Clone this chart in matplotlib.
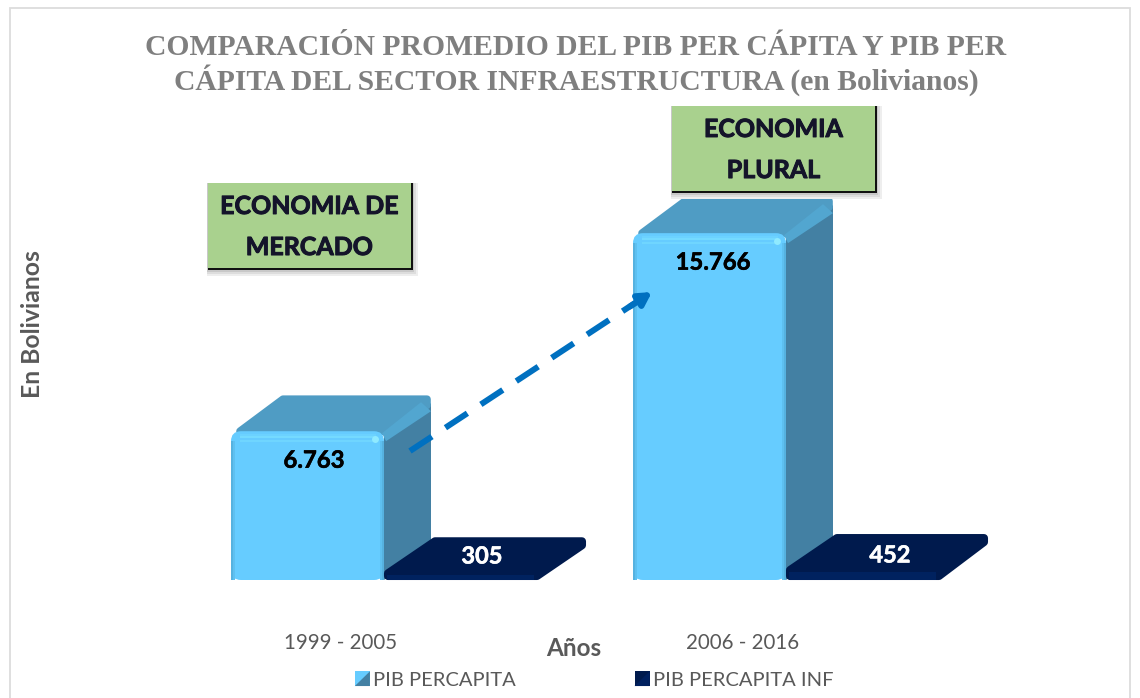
import matplotlib
matplotlib.use('Agg')
import matplotlib.pyplot as plt
import matplotlib.patheffects as pe
from matplotlib.patches import FancyBboxPatch, Polygon, Rectangle, Patch
from matplotlib.legend_handler import HandlerPatch

# --- Data ---
periodos = ['1999 - 2005', '2006 - 2016']
pib_percapita = [6763, 15766]
pib_percapita_inf = [305, 452]
etiquetas_pib = ['6.763', '15.766']
etiquetas_inf = ['305', '452']
titulo = 'COMPARACIÓN PROMEDIO DEL PIB PER CÁPITA Y PIB PER\nCÁPITA DEL SECTOR INFRAESTRUCTURA (en Bolivianos)'
cajas = ['ECONOMIA DE\nMERCADO', 'ECONOMIA\nPLURAL']

W, H = 1140, 698
PX_X = 1 / 402      # one pixel in category units
PX_Y = 1 / 0.022    # one pixel in Bolivianos
BASE_Y = 580        # pixel row of the zero line
X0 = 341            # pixel column of the first category

plt.rcParams['font.family'] = ['Lato', 'DejaVu Sans']
fig = plt.figure(figsize=(W / 100, H / 100), dpi=100, facecolor='white')

# frame of the chart area
fig.add_artist(Rectangle((10 / W, -0.02), 1120 / W, 1.02 - 8 / H, transform=fig.transFigure,
                         fc='white', ec='#dcdcdc', lw=1.3, zorder=-1))

# axes from the zero line upwards
ax = fig.add_axes([130 / W, (H - BASE_Y) / H, 900 / W, 480 / H])
ax.set_xlim((130 - X0) * PX_X, (1030 - X0) * PX_X)
ax.set_ylim(0, 480 * PX_Y)
ax.patch.set_alpha(0)
for s in ax.spines.values():
    s.set_visible(False)
ax.set_yticks([])
ax.set_xticks(range(len(periodos)))
ax.set_xticklabels(periodos, fontsize=14.8, color='#595959')
ax.tick_params(axis='x', length=0, pad=38.5)

ANCHO = 152 * PX_X
DX = 47 * PX_X
DY = 36 * PX_Y
OFF_A = -109 * PX_X
OFF_B = 43 * PX_X
ASPECT = PX_Y / PX_X


def caja_redonda(x, y, w, h, color, r=8, z=3):
    p = FancyBboxPatch((x, y), w, h, boxstyle=f'round,pad=0,rounding_size={r * PX_X}',
                       mutation_aspect=ASPECT, fc=color, ec='none', zorder=z, clip_on=False)
    ax.add_patch(p)
    return p


def barra_3d(x, v):
    # side face
    lado = [(x + ANCHO, 0), (x + ANCHO + DX, DY), (x + ANCHO + DX, v + DY - 8 * PX_Y), (x + ANCHO, v)]
    ax.add_patch(Polygon(lado, fc='#4380A3', ec='none', zorder=2))
    # top face, inset and stroked so that the corners come out round
    i = 4
    arriba = [(x + i * 2 * PX_X, v), (x + DX + i * PX_X, v + DY - i * PX_Y),
              (x + ANCHO + DX - i * PX_X, v + DY - i * PX_Y), (x + ANCHO + DX - i * PX_X, v + DY - 10 * PX_Y),
              (x + ANCHO, v)]
    ax.add_patch(Polygon(arriba, fc='#4F9CC4', ec='#4F9CC4', lw=5.5, joinstyle='round', zorder=2))
    # lighter edge between top and side
    borde = [(x + ANCHO - 2 * PX_X, v - 2 * PX_Y), (x + ANCHO + DX - 10 * PX_X, v + DY - 7 * PX_Y),
             (x + ANCHO + DX, v + DY - 16 * PX_Y), (x + ANCHO + 2 * PX_X, v - 10 * PX_Y)]
    ax.add_patch(Polygon(borde, fc='#52A6D0', ec='none', zorder=2))
    # front face
    caja_redonda(x - 1 * PX_X, 0, ANCHO + 1 * PX_X, v, '#66CCFF', r=10, z=3)
    for k, c in [(3, '#6CD2FF'), (5, '#74DAFF'), (9, '#6FD5FF')]:
        ax.add_patch(Rectangle((x + 8 * PX_X, v - k * PX_Y - 2 * PX_Y), ANCHO - 16 * PX_X, 2 * PX_Y,
                               fc=c, ec='none', zorder=4))
    # bevels at both sides of the front face
    for k, c in [(-1, '#56B2E0'), (1, '#5EC0F0')]:
        ax.add_patch(Rectangle((x + k * PX_X, 0), 2 * PX_X, v - 10 * PX_Y, fc=c, ec='none', zorder=4))
    for k, c in [(0, '#56B2E0'), (2, '#5EC0F0')]:
        ax.add_patch(Rectangle((x + ANCHO - (k + 2) * PX_X, 0), 2 * PX_X, v - 10 * PX_Y, fc=c, ec='none', zorder=4))
    ax.plot([x + ANCHO - 9 * PX_X], [v - 8 * PX_Y], 'o', ms=5, color='#8FEAFF', mec='none', zorder=5)


def barra_plana(x, v):
    i = 4
    pts = [(x + i * PX_X, i * PX_Y), (x + i * PX_X, v), (x + DX + i * PX_X, v + DY - i * PX_Y),
           (x + ANCHO + DX - i * PX_X + 3 * PX_X, v + DY - i * PX_Y),
           (x + ANCHO + DX - i * PX_X + 3 * PX_X, v + DY - 8 * PX_Y),
           (x + ANCHO + 1 * PX_X, i * PX_Y)]
    ax.add_patch(Polygon(pts, closed=True, fc='#001A4D', ec='#001A4D', lw=5.8, joinstyle='round',
                         zorder=5, clip_on=False))
    ax.add_patch(Rectangle((x + 3 * PX_X, 0), ANCHO - 5 * PX_X, v - 2 * PX_Y, fc='#00225F', ec='none', zorder=5))


for i in range(len(periodos)):
    barra_3d(i + OFF_A, pib_percapita[i])
    barra_plana(i + OFF_B, pib_percapita_inf[i])
    ax.text(i + OFF_A + ANCHO / 2 + (6 - 3 * i) * PX_X, pib_percapita[i] - 29 * PX_Y, etiquetas_pib[i],
            ha='center', va='center', fontsize=17.2, fontweight='bold', color='black', zorder=7,
            path_effects=[pe.withStroke(linewidth=0.4, foreground='black')])
    ax.text(i + OFF_B + (98 + 6 * i) * PX_X, (24 + i) * PX_Y, etiquetas_inf[i], ha='center', va='center',
            fontsize=17, fontweight='bold', color='white', zorder=7,
            path_effects=[pe.withStroke(linewidth=0.4, foreground='white')])

# green notes, positioned in figure pixels
for texto, (x, y) in zip(cajas, [(208, 183), (672, 106)]):
    w, h = 203, 85
    for k, c in [(8, '#eeeeee'), (6, '#dddddd'), (4, '#c8c8c8')]:
        fig.add_artist(Rectangle(((x - 1) / W, 1 - (y + h + k) / H), (w + k) / W, (h + k) / H,
                                 transform=fig.transFigure, fc=c, ec='none', zorder=8))
    fig.add_artist(Rectangle((x / W, 1 - (y + h + 2) / H), (w + 2) / W, (h + 2) / H, transform=fig.transFigure,
                             fc='#111111', ec='none', zorder=8))
    fig.add_artist(Rectangle((x / W, 1 - (y + h) / H), w / W, h / H, transform=fig.transFigure,
                             fc='#A9D18E', ec='none', zorder=8))
    fig.text((x + w / 2) / W, 1 - (y + h / 2 + 1.5) / H, texto, ha='center', va='center', fontsize=18,
             fontweight='bold', color='#14142a', linespacing=1.95, zorder=9,
             path_effects=[pe.withStroke(linewidth=0.7, foreground='#14142a')])

# arrow between the two periods: dashed shaft, then the head
ax.plot([(410 - X0) * PX_X, (635 - X0) * PX_X], [(BASE_Y - 451) * PX_Y, (BASE_Y - 303) * PX_Y], color='#0070C0',
        lw=4.3, linestyle=(0, (4.4, 2.7)), dash_capstyle='butt', zorder=6)
ax.annotate('', xy=((652 - X0) * PX_X, (BASE_Y - 292) * PX_Y), xytext=((630 - X0) * PX_X, (BASE_Y - 306.5) * PX_Y),
            arrowprops=dict(arrowstyle='-|>,head_length=0.75,head_width=0.42', color='#0070C0', lw=4.3,
                            shrinkA=0, shrinkB=0), zorder=6)

fig.text(576 / W, 1 - 65 / H, titulo, ha='center', va='center', family='Liberation Serif', fontsize=21.3,
         fontweight='bold', color='#7f7f7f', linespacing=1.13)
fig.text(33 / W, 1 - 324 / H, 'En Bolivianos', rotation=90, ha='center', va='center', fontsize=17.8,
         fontweight='bold', color='#595959')
fig.text(574 / W, 1 - 649 / H, 'Años', ha='center', va='center', fontsize=17.5, fontweight='bold', color='#595959')


class IconoLegenda(HandlerPatch):
    # square icon with the bevel of the 3D series
    def __init__(self, c1, c2):
        super().__init__()
        self.c1, self.c2 = c1, c2

    def create_artists(self, legend, orig, xd, yd, width, height, fontsize, trans):
        a = Rectangle((-xd, -yd), width, height, fc=self.c1, ec='none', transform=trans)
        b = Polygon([(-xd, -yd), (-xd + width, -yd), (-xd + width, -yd + height), (-xd + width / 2, -yd + height / 2)],
                    fc=self.c2, ec='none', transform=trans)
        return [a, b]


h1 = Patch(label='PIB PERCAPITA')
h2 = Patch(label='PIB PERCAPITA INF')
fig.legend(handles=[h1, h2], ncol=2, frameon=False, fontsize=14.5, labelcolor='#595959',
           loc='center', bbox_to_anchor=(594 / W, 1 - 680 / H), handlelength=0.75, handleheight=0.75,
           handletextpad=0.15, columnspacing=5.9,
           handler_map={h1: IconoLegenda('#66CCFF', '#4380A3'), h2: IconoLegenda('#001A4D', '#00205F')})

fig.savefig('out.png', dpi=100)
